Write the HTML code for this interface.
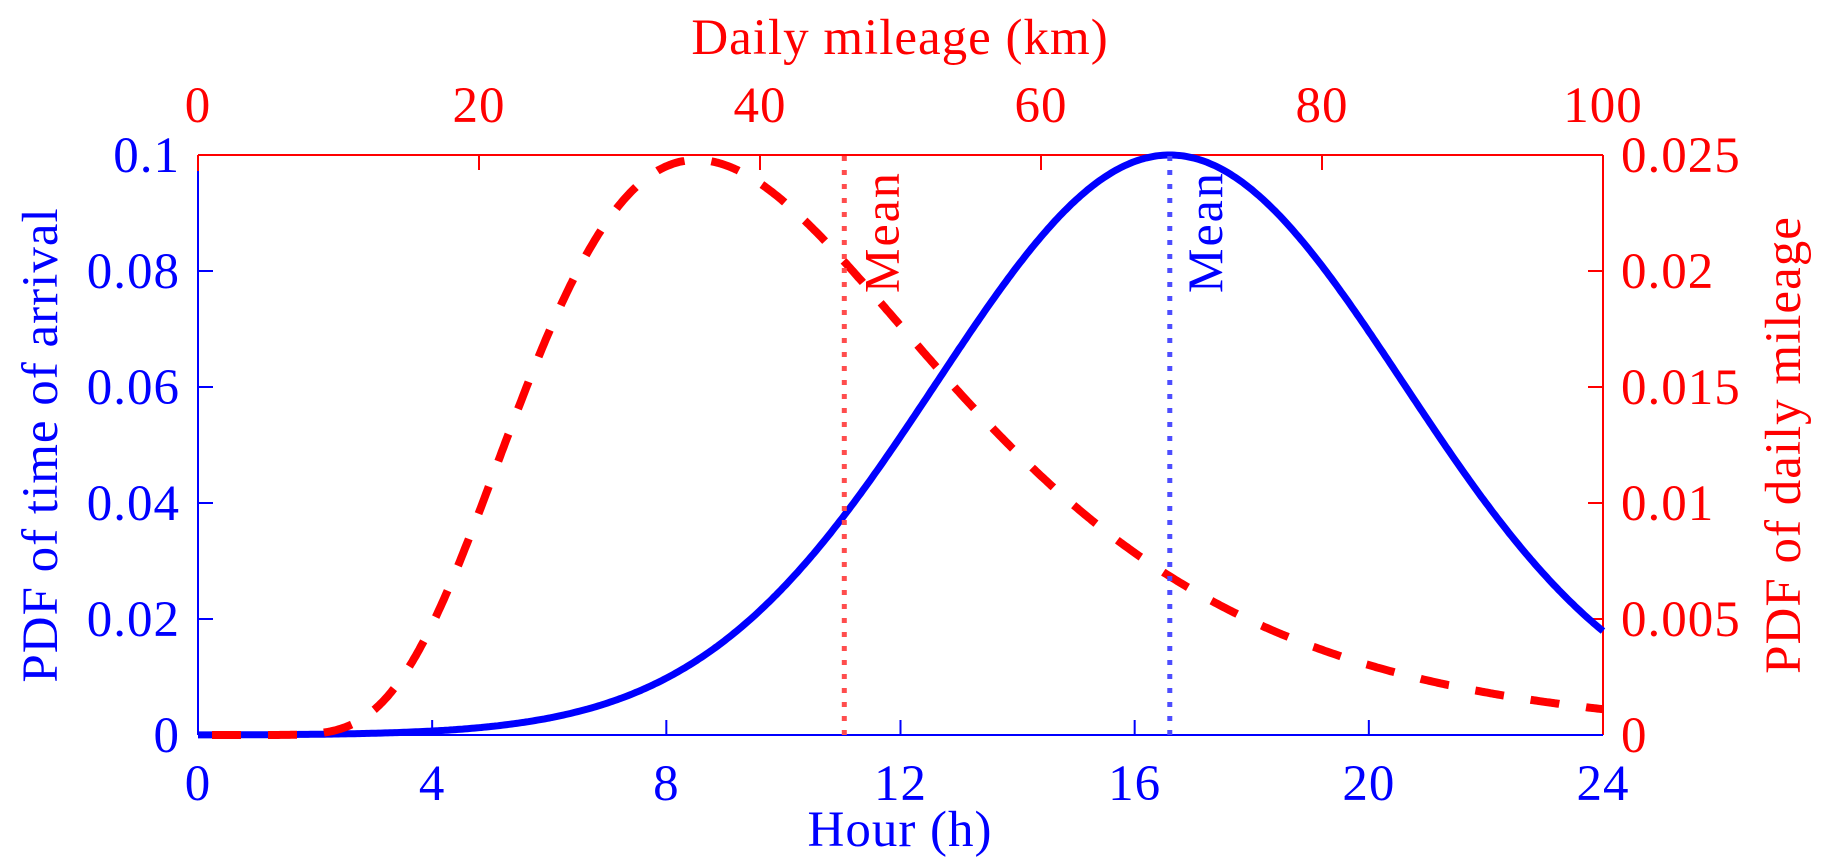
<!DOCTYPE html>
<html><head><meta charset="utf-8">
<style>
html,body{margin:0;padding:0;background:#fff;}
svg text{font-family:"Liberation Serif",serif;}
</style></head>
<body>
<svg id="s" width="1821" height="863" viewBox="0 0 1821 863" xmlns="http://www.w3.org/2000/svg">
<g id="g"></g>
</svg>
<script>
const L=198,R=1603,T=155,B=735,W=R-L,H=B-T;
const g=document.getElementById('g');
let h='';
h+=`<line x1="${L}" y1="${T}" x2="${R}" y2="${T}" stroke="#ff0000" stroke-width="2"/>`;
h+=`<line x1="${R}" y1="${T}" x2="${R}" y2="${B}" stroke="#ff0000" stroke-width="2"/>`;
h+=`<line x1="${L}" y1="${B}" x2="${R}" y2="${B}" stroke="#0000ff" stroke-width="2"/>`;
h+=`<line x1="${L}" y1="${T+16}" x2="${L}" y2="${B}" stroke="#0000ff" stroke-width="2"/>`;
h+=`<line x1="${L}" y1="${T}" x2="${L}" y2="${T+16}" stroke="#ff0000" stroke-width="2"/>`;
const tk=15;
for(let i=1;i<6;i++){const x=L+i/6*W;h+=`<line x1="${x}" y1="${B}" x2="${x}" y2="${B-tk}" stroke="#0000ff" stroke-width="2"/>`;}
for(let i=1;i<5;i++){const x=L+i/5*W;h+=`<line x1="${x}" y1="${T}" x2="${x}" y2="${T+tk}" stroke="#ff0000" stroke-width="2"/>`;}
for(let i=1;i<5;i++){const y=B-i/5*H;h+=`<line x1="${L}" y1="${y}" x2="${L+tk}" y2="${y}" stroke="#0000ff" stroke-width="2"/>`;h+=`<line x1="${R}" y1="${y}" x2="${R-tk}" y2="${y}" stroke="#ff0000" stroke-width="2"/>`;}
const fs=51, ls='letter-spacing="1"';
for(let v=0;v<=24;v+=4){const x=L+v/24*W;h+=`<text x="${x}" y="800" font-size="${fs}" ${ls} fill="#0000ff" text-anchor="middle">${v}</text>`;}
for(let v=0;v<=100;v+=20){const x=L+v/100*W;h+=`<text x="${x}" y="122" font-size="${fs}" ${ls} fill="#ff0000" text-anchor="middle">${v}</text>`;}
const ll=['0','0.02','0.04','0.06','0.08','0.1'];
for(let i=0;i<6;i++){const y=B-i/5*H;h+=`<text x="180" y="${y+17}" font-size="${fs}" ${ls} fill="#0000ff" text-anchor="end">${ll[i]}</text>`;}
const rl=['0','0.005','0.01','0.015','0.02','0.025'];
for(let i=0;i<6;i++){const y=B-i/5*H;h+=`<text x="1621" y="${y+17}" font-size="${fs}" ${ls} fill="#ff0000">${rl[i]}</text>`;}
h+=`<text x="900" y="54" font-size="${fs}" ${ls} fill="#ff0000" text-anchor="middle">Daily mileage (km)</text>`;
h+=`<text x="900" y="846" font-size="${fs}" ${ls} fill="#0000ff" text-anchor="middle">Hour (h)</text>`;
h+=`<text transform="translate(57,445) rotate(-90)" font-size="${fs}" ${ls} fill="#0000ff" text-anchor="middle">PDF of time of arrival</text>`;
h+=`<text transform="translate(1800,445) rotate(-90)" font-size="${fs}" ${ls} fill="#ff0000" text-anchor="middle">PDF of daily mileage</text>`;
const mu=16.6,sg=3.99;
let p='';
for(let i=0;i<=600;i++){const t=24*i/600;const y=0.1*Math.exp(-(t-mu)*(t-mu)/(2*sg*sg));p+=(i?'L':'M')+(L+t/24*W).toFixed(1)+','+(B-y/0.1*H).toFixed(1);}
h+=`<path d="${p}" fill="none" stroke="#0000ff" stroke-width="7"/>`;
const lm=3.742,lsg=0.416;
let q='';
for(let i=0;i<=800;i++){const x=100*i/800;let y=0;if(x>0){const d=Math.log(x)-lm;y=Math.exp(-d*d/(2*lsg*lsg))/(x*lsg*Math.sqrt(2*Math.PI));}q+=(i?'L':'M')+(L+x/100*W).toFixed(1)+','+(B-y/0.025*H).toFixed(1);}
h+=`<path d="${q}" fill="none" stroke="#ff0000" stroke-width="8" stroke-dasharray="29 27" stroke-dashoffset="-14"/>`;
const xr=L+46/100*W, xb=L+mu/24*W;
h+=`<line x1="${xr}" y1="${B}" x2="${xr}" y2="${T}" stroke="#ff4d4d" stroke-width="5" stroke-dasharray="5 9"/>`;
h+=`<line x1="${xb}" y1="${B}" x2="${xb}" y2="${T}" stroke="#4d4dff" stroke-width="5" stroke-dasharray="5 9"/>`;
h+=`<text transform="translate(${xr+54},293) rotate(-90)" font-size="50" letter-spacing="2" fill="#ff0000">Mean</text>`;
h+=`<text transform="translate(${xb+52},293) rotate(-90)" font-size="50" letter-spacing="2" fill="#0000ff">Mean</text>`;
g.innerHTML=h;
</script>
</body></html>
